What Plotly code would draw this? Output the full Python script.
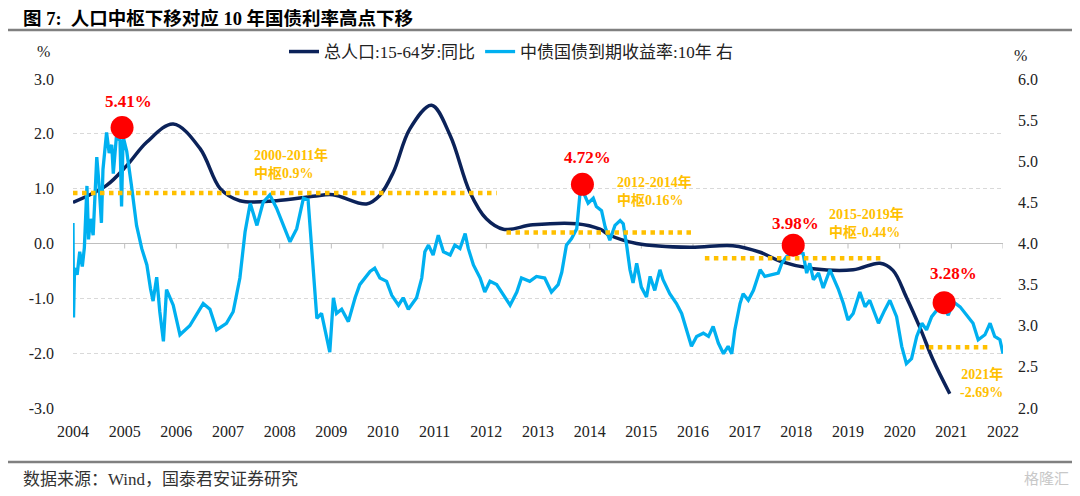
import plotly.graph_objects as go

# ---------------- data ----------------
pop_x = [2004.00, 2004.65, 2005.04, 2005.43, 2005.94, 2006.46, 2006.85, 2007.23, 2007.94,
         2008.65, 2009.03, 2009.68, 2009.94, 2010.20, 2010.52, 2010.94, 2011.30, 2011.68,
         2012.00, 2012.33, 2012.90, 2013.75, 2014.20, 2014.39, 2014.91, 2015.94, 2016.77,
         2017.30, 2017.68, 2018.33, 2019.10, 2019.62, 2019.87, 2020.13, 2020.39, 2020.65, 2020.97]
pop_y = [0.75, 1.06, 1.42, 1.85, 2.18, 1.73, 1.00, 0.78, 0.78,
         0.86, 0.89, 0.72, 0.88, 1.30, 2.09, 2.52, 1.97, 0.94,
         0.45, 0.26, 0.34, 0.36, 0.26, 0.15, 0.00, -0.07, -0.04,
         -0.16, -0.32, -0.46, -0.48, -0.36, -0.49, -0.98, -1.53, -2.13, -2.74]

bond_x = [2004.00, 2004.01, 2004.03, 2004.08, 2004.13, 2004.18, 2004.22, 2004.27, 2004.30, 2004.34,
          2004.39, 2004.46, 2004.50, 2004.55, 2004.58, 2004.65, 2004.70, 2004.75, 2004.78, 2004.84,
          2004.91, 2004.94, 2004.97, 2005.04, 2005.13, 2005.23, 2005.33, 2005.43, 2005.50, 2005.55,
          2005.62, 2005.68, 2005.75, 2005.81, 2005.94, 2006.07, 2006.26, 2006.39, 2006.52, 2006.65,
          2006.78, 2006.97, 2007.10, 2007.23, 2007.33, 2007.43, 2007.56, 2007.68, 2007.81, 2007.94,
          2008.07, 2008.20, 2008.33, 2008.46, 2008.55, 2008.59, 2008.65, 2008.72, 2008.81, 2008.91,
          2008.97, 2009.04, 2009.10, 2009.20, 2009.33, 2009.46, 2009.55, 2009.75, 2009.84, 2009.94,
          2010.07, 2010.17, 2010.30, 2010.39, 2010.49, 2010.65, 2010.75, 2010.81, 2010.88, 2010.97,
          2011.07, 2011.17, 2011.30, 2011.39, 2011.49, 2011.59, 2011.65, 2011.75, 2011.88, 2011.97,
          2012.07, 2012.20, 2012.33, 2012.46, 2012.59, 2012.68, 2012.84, 2012.97, 2013.13, 2013.26,
          2013.39, 2013.46, 2013.55, 2013.65, 2013.75, 2013.81, 2013.88, 2013.97, 2014.07, 2014.13,
          2014.23, 2014.30, 2014.39, 2014.49, 2014.59, 2014.65, 2014.72, 2014.78, 2014.84, 2014.91,
          2015.00, 2015.10, 2015.17, 2015.26, 2015.36, 2015.42, 2015.55, 2015.68, 2015.78, 2015.88,
          2015.97, 2016.07, 2016.20, 2016.30, 2016.39, 2016.49, 2016.59, 2016.68, 2016.75, 2016.81,
          2016.91, 2016.97, 2017.07, 2017.17, 2017.30, 2017.39, 2017.52, 2017.65, 2017.72, 2017.81,
          2017.94, 2018.13, 2018.20, 2018.26, 2018.33, 2018.43, 2018.52, 2018.65, 2018.81, 2018.91,
          2019.00, 2019.10, 2019.23, 2019.33, 2019.42, 2019.59, 2019.71, 2019.81, 2019.94, 2020.04,
          2020.13, 2020.23, 2020.33, 2020.43, 2020.52, 2020.62, 2020.72, 2020.84, 2020.94, 2021.04,
          2021.17, 2021.30, 2021.42, 2021.52, 2021.65, 2021.75, 2021.84, 2021.94, 2022.00]
bond_y = [4.25, 3.10, 3.70, 3.62, 3.90, 3.72, 3.95, 4.70, 4.05, 4.30,
          4.10, 5.05, 4.75, 4.25, 4.90, 5.35, 5.10, 5.20, 4.85, 5.30,
          5.25, 4.45, 5.30, 5.12, 4.71, 4.22, 3.94, 3.74, 3.45, 3.30,
          3.59, 3.17, 2.81, 3.44, 3.25, 2.89, 3.00, 3.13, 3.27, 3.20,
          2.95, 3.03, 3.17, 3.58, 4.14, 4.49, 4.22, 4.50, 4.59, 4.43,
          4.22, 4.02, 4.18, 4.55, 4.53, 4.22, 3.70, 3.09, 3.15, 2.85,
          2.68, 3.34, 3.15, 3.20, 3.05, 3.34, 3.50, 3.66, 3.70, 3.58,
          3.54, 3.37, 3.25, 3.34, 3.20, 3.34, 3.58, 3.90, 3.98, 3.86,
          4.10, 3.90, 3.86, 3.98, 3.94, 4.12, 3.94, 3.74, 3.58, 3.41,
          3.54, 3.50, 3.37, 3.25, 3.41, 3.58, 3.54, 3.60, 3.58, 3.41,
          3.50, 3.65, 3.98, 4.06, 4.18, 4.59, 4.62, 4.49, 4.55, 4.45,
          4.40, 4.20, 4.04, 4.22, 4.28, 4.24, 3.96, 3.68, 3.52, 3.76,
          3.47, 3.35, 3.60, 3.43, 3.68, 3.56, 3.39, 3.27, 3.15, 2.95,
          2.75, 2.87, 2.91, 2.87, 2.99, 2.79, 2.66, 2.75, 2.66, 2.95,
          3.27, 3.39, 3.31, 3.43, 3.68, 3.60, 3.62, 3.64, 3.76, 3.84,
          3.90, 3.88, 3.64, 3.76, 3.56, 3.64, 3.46, 3.68, 3.45, 3.27,
          3.07, 3.15, 3.41, 3.23, 3.31, 3.03, 3.19, 3.31, 3.11, 2.75,
          2.54, 2.60, 2.87, 3.03, 2.95, 3.11, 3.19, 3.23, 3.13, 3.29,
          3.23, 3.13, 3.03, 2.83, 2.89, 3.03, 2.87, 2.83, 2.66]

peak_x = [2004.95, 2013.86, 2017.94, 2020.86]
peak_y = [5.41, 4.72, 3.98, 3.28]

median_start = [2004.00, 2012.39, 2016.23, 2020.39]
median_end = [2012.20, 2016.00, 2019.68, 2021.72]
median_level = [0.92, 0.20, -0.27, -1.89]
median_labels = ["2000-2011年<br>中枢0.9%", "2012-2014年<br>中枢0.16%",
                 "2015-2019年<br>中枢-0.44%", "2021年<br>-2.69%"]

year_ticks = list(range(2004, 2023))
year_labels = [str(y) for y in year_ticks]
left_ticks = [-3, -2, -1, 0, 1, 2, 3]
left_labels = ["-3.0", "-2.0", "-1.0", "0.0", "1.0", "2.0", "3.0"]
right_ticks = [2.0, 2.5, 3.0, 3.5, 4.0, 4.5, 5.0, 5.5, 6.0]
right_labels = ["2.0", "2.5", "3.0", "3.5", "4.0", "4.5", "5.0", "5.5", "6.0"]

# ---------------- layout helpers ----------------
# the page body has an 8px margin, so the figure is drawn 8px smaller
OFF = 8
W, H = 1080 - OFF, 496 - OFF
PL, PR, PT, PB = 73, 1003, 79, 408   # plot area in page pixels


def px_x(px):
    return (px - PL) / (PR - PL)


def px_y(py):
    return (PB - py) / (PB - PT)


SERIF = "Liberation Serif, Times New Roman, Noto Sans CJK SC, serif"
NAVY = "#0b2259"
BLUE = "#00b0f0"
YEL = "#ffc000"
RED = "#ff0000"

fig = go.Figure()

fig.add_trace(go.Scatter(
    x=pop_x, y=pop_y, name="总人口:15-64岁:同比", mode="lines",
    line=dict(color=NAVY, width=3.5, shape="spline", smoothing=1.0),
    yaxis="y", hoverinfo="skip"))

fig.add_trace(go.Scatter(
    x=bond_x, y=bond_y, name="中债国债到期收益率:10年 右", mode="lines",
    line=dict(color=BLUE, width=3.3), yaxis="y2", hoverinfo="skip"))

fig.add_trace(go.Scatter(
    x=peak_x, y=peak_y, mode="markers", yaxis="y2", showlegend=False,
    marker=dict(color=RED, size=23, line=dict(width=0)), hoverinfo="skip"))

shapes = []
for x0, x1, v in zip(median_start, median_end, median_level):
    shapes.append(dict(type="line", xref="x", yref="y", x0=x0, x1=x1, y0=v, y1=v,
                       line=dict(color=YEL, width=4.5, dash="dot"), layer="above"))
for t in year_ticks:
    shapes.append(dict(type="line", xref="x", yref="paper", x0=t, x1=t,
                       y0=0.5, y1=0.5 - 5 / (PB - PT),
                       line=dict(color="#bfbfbf", width=1), layer="below"))
shapes.append(dict(type="line", xref="paper", yref="paper", x0=px_x(8), x1=px_x(1072),
                   y0=px_y(30), y1=px_y(30), line=dict(color="#808080", width=2.5)))
shapes.append(dict(type="line", xref="paper", yref="paper", x0=px_x(8), x1=px_x(1072),
                   y0=px_y(462), y1=px_y(462), line=dict(color="#808080", width=2.5)))

annotations = []
annotations.append(dict(xref="paper", yref="paper", x=px_x(21), y=px_y(18),
                        xanchor="left", yanchor="middle", showarrow=False,
                        text="<b>图 7:  人口中枢下移对应 10 年国债利率高点下移</b>",
                        font=dict(family=SERIF, size=18.5, color="#000000")))
annotations.append(dict(xref="paper", yref="paper", x=px_x(21), y=px_y(479),
                        xanchor="left", yanchor="middle", showarrow=False,
                        text="数据来源：Wind，国泰君安证券研究",
                        font=dict(family=SERIF, size=17, color="#333333")))
annotations.append(dict(xref="paper", yref="paper", x=px_x(1071), y=px_y(479),
                        xanchor="right", yanchor="middle", showarrow=False,
                        text="格隆汇", font=dict(family=SERIF, size=15, color="#c8c8c8")))
annotations.append(dict(xref="paper", yref="paper", x=px_x(43), y=px_y(52),
                        xanchor="center", yanchor="middle", showarrow=False, text="%",
                        font=dict(family=SERIF, size=16, color="#222222")))
annotations.append(dict(xref="paper", yref="paper", x=px_x(1021), y=px_y(55),
                        xanchor="center", yanchor="middle", showarrow=False, text="%",
                        font=dict(family=SERIF, size=16, color="#222222")))

peak_shift = [(6, 26), (5, 27), (2, 22), (9, 29)]
for (xx, yy), (dx, dy) in zip(zip(peak_x, peak_y), peak_shift):
    annotations.append(dict(xref="x", yref="y2", x=xx, y=yy, xshift=dx, yshift=dy,
                            showarrow=False, text=f"<b>{yy:.2f}%</b>",
                            font=dict(family=SERIF, size=17, color=RED)))

label_pos = [(252, 145, "left"), (615, 172, "left"), (827, 204, "left"), (1005, 364, "right")]
for txt, (lx, ly, al) in zip(median_labels, label_pos):
    annotations.append(dict(xref="paper", yref="paper", x=px_x(lx), y=px_y(ly),
                            xanchor=al, yanchor="top", align=al, showarrow=False,
                            text=f"<b>{txt}</b>",
                            font=dict(family=SERIF, size=14, color=YEL)))

fig.update_layout(
    width=W, height=H,
    margin=dict(l=PL - OFF, r=W - (PR - OFF), t=PT - OFF, b=H - (PB - OFF), pad=0),
    paper_bgcolor="white", plot_bgcolor="white",
    showlegend=True,
    legend=dict(orientation="h", x=px_x(284), y=px_y(52), xanchor="left", yanchor="middle",
                font=dict(family=SERIF, size=17, color="#222222"),
                bgcolor="rgba(0,0,0,0)", traceorder="normal"),
    xaxis=dict(range=[2004, 2022], tickvals=year_ticks, ticktext=year_labels,
               showgrid=False, zeroline=False, showline=False, ticks="",
               ticklabelstandoff=12,
               tickfont=dict(family=SERIF, size=16, color="#222222")),
    yaxis=dict(range=[-3, 3], tickvals=left_ticks, ticktext=left_labels,
               showgrid=True, gridcolor="#d9d9d9", griddash="4px,3px", gridwidth=1,
               zeroline=True, zerolinecolor="#bfbfbf", zerolinewidth=1,
               showline=False, ticks="", ticklabelstandoff=18,
               tickfont=dict(family=SERIF, size=16, color="#222222")),
    yaxis2=dict(range=[2, 6], tickvals=right_ticks, ticktext=right_labels,
                overlaying="y", side="right", showgrid=False, zeroline=False,
                showline=False, ticks="", ticklabelstandoff=14,
                tickfont=dict(family=SERIF, size=16, color="#222222")),
    shapes=shapes, annotations=annotations,
)

fig.write_html("out.html")
